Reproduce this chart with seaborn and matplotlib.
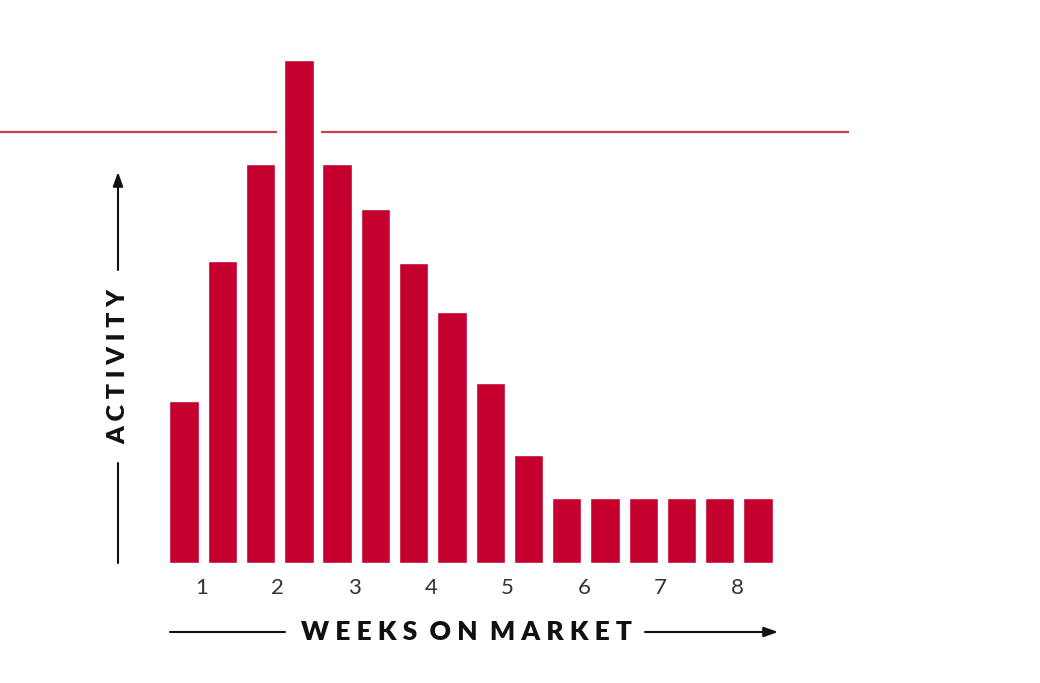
import matplotlib
matplotlib.use("Agg")
import matplotlib.pyplot as plt
import seaborn as sns
import pandas as pd
import numpy as np

# ---- data ----
bar_index = list(range(16))
activity = [162, 302, 399, 503, 399, 354, 300, 251, 180, 108, 65, 65, 65, 65, 65, 65]
week_labels = ["1", "2", "3", "4", "5", "6", "7", "8"]
threshold = 431

BAR_COLOR = "#C5002E"
LINE_COLOR = "#CF3A55"

sns.set_theme(style="white")
plt.rcParams["font.family"] = ["Lato", "DejaVu Sans"]

W, H = 1040, 683
fig = plt.figure(figsize=(W / 100, H / 100), dpi=100)
fig.patch.set_facecolor("white")

ax_left, ax_right = 0, 849
ax_bottom_img, ax_top_img = 563, 40
ax = fig.add_axes([ax_left / W, (H - ax_bottom_img) / H,
                   (ax_right - ax_left) / W, (ax_bottom_img - ax_top_img) / H])

df = pd.DataFrame({"bar": bar_index, "activity": activity})
sns.barplot(data=df, x="bar", y="activity", color=BAR_COLOR, saturation=1,
            width=0.766, ax=ax, native_scale=True, zorder=3)

step = 38.26
xmin = -184.1 / step
xmax = (849 - 184.1) / step
ax.set_xlim(xmin, xmax)
ax.set_ylim(0, ax_bottom_img - ax_top_img)

# threshold line broken around the peak bar
peak = int(np.argmax(activity))
gap = 0.57
ax.hlines(threshold, xmin, peak - gap, color=LINE_COLOR, lw=1.6, zorder=2)
ax.hlines(threshold, peak + gap, xmax, color=LINE_COLOR, lw=1.6, zorder=2)

for s in ax.spines.values():
    s.set_visible(False)
ax.set_yticks([])
ax.set_xticks([2 * k + 0.45 for k in range(len(week_labels))])
ax.set_xticklabels(week_labels, fontsize=16, color="#333333", fontweight="normal")
ax.tick_params(axis="x", length=0, pad=11, labelcolor="#333333")
ax.set_xlabel("")
ax.set_ylabel("")
ax.set_facecolor("white")

fig.text(466 / W, (H - 632) / H, "W E E K S  O N  M A R K E T",
         ha="center", va="center", fontsize=19, fontweight="heavy", color="#111111")
fig.text(118 / W, (H - 366) / H, "A C T I V I T Y", rotation=90,
         ha="center", va="center", fontsize=18, fontweight="heavy", color="#111111")

def seg(x0, y0, x1, y1, arrow=False):
    ax.annotate("", xy=(x1, H - y1), xytext=(x0, H - y0),
                xycoords="figure pixels", textcoords="figure pixels",
                arrowprops=dict(arrowstyle="-|>,head_length=0.7,head_width=0.25" if arrow else "-",
                                color="#111111", lw=1.5, shrinkA=0, shrinkB=0),
                annotation_clip=False)

seg(170, 632, 285, 632)
seg(645, 632, 778, 632, arrow=True)
seg(118, 563, 118, 463)
seg(118, 270, 118, 172, arrow=True)

fig.savefig("out.png", dpi=100, facecolor="white")
